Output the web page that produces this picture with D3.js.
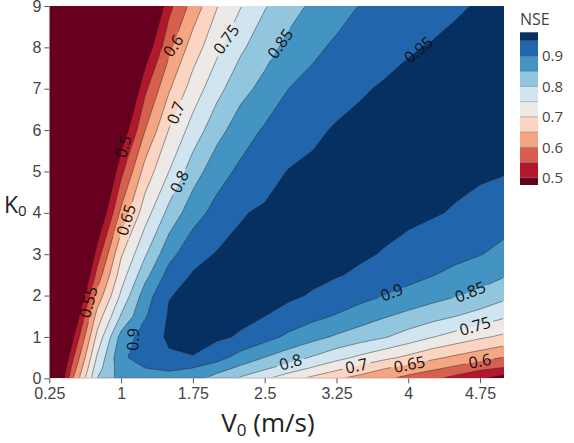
<!DOCTYPE html>
<html>
<head>
<meta charset="utf-8">
<script src="https://cdn.jsdelivr.net/npm/d3@7"></script>
<style>
  body { margin: 0; background: #fff; }
  svg { display: block; font-family: 'Open Sans', sans-serif; }
</style>
</head>
<body>
<div id="chart"></div>
<script>
// grid of the NSE surface: columns = V0 (m/s), rows = K0 (bottom to top)
var v0 = [0.25, 0.5, 0.75, 1, 1.25, 1.5, 1.75, 2, 2.25, 2.5, 2.75, 3, 3.25, 3.5, 3.75, 4, 4.25, 4.5, 4.75, 5]
var k0 = [0, 0.25, 0.5, 1, 1.5, 2, 2.5, 3, 4, 5, 6, 7, 8, 9]

var nseK00 = [0.33, 0.60, 0.80, 0.87, 0.88, 0.885, 0.87, 0.83, 0.793, 0.757, 0.721, 0.688, 0.656, 0.632, 0.609, 0.585, 0.56, 0.533, 0.506, 0.478]
var nseK025 = [0.32, 0.573, 0.778, 0.877, 0.90, 0.907, 0.90, 0.872, 0.84, 0.809, 0.778, 0.746, 0.715, 0.684, 0.654, 0.632, 0.612, 0.589, 0.563, 0.547]
var nseK05 = [0.30, 0.546, 0.757, 0.89, 0.925, 0.945, 0.948, 0.92, 0.879, 0.849, 0.822, 0.795, 0.766, 0.739, 0.713, 0.688, 0.661, 0.639, 0.619, 0.598]
var nseK1 = [0.27, 0.495, 0.714, 0.868, 0.928, 0.956, 0.964, 0.958, 0.945, 0.918, 0.89, 0.866, 0.843, 0.823, 0.804, 0.779, 0.752, 0.73, 0.708, 0.69]
var nseK15 = [0.25, 0.44, 0.67, 0.805, 0.895, 0.955, 0.965, 0.966, 0.96, 0.95, 0.932, 0.913, 0.896, 0.875, 0.854, 0.836, 0.818, 0.80, 0.78, 0.757]
var nseK2 = [0.25, 0.39, 0.616, 0.759, 0.875, 0.948, 0.96, 0.968, 0.97, 0.966, 0.958, 0.946, 0.931, 0.916, 0.90, 0.885, 0.869, 0.853, 0.838, 0.814]
var nseK25 = [0.25, 0.34, 0.568, 0.725, 0.833, 0.918, 0.954, 0.962, 0.968, 0.97, 0.966, 0.96, 0.953, 0.943, 0.929, 0.916, 0.902, 0.887, 0.871, 0.855]
var nseK3 = [0.25, 0.29, 0.523, 0.694, 0.794, 0.884, 0.933, 0.953, 0.96, 0.965, 0.968, 0.967, 0.963, 0.956, 0.947, 0.936, 0.925, 0.913, 0.902, 0.886]
var nseK4 = [0.25, 0.25, 0.43, 0.611, 0.727, 0.815, 0.879, 0.917, 0.947, 0.956, 0.962, 0.966, 0.968, 0.967, 0.965, 0.96, 0.954, 0.946, 0.935, 0.924]
var nseK5 = [0.25, 0.25, 0.36, 0.536, 0.67, 0.75, 0.827, 0.879, 0.911, 0.932, 0.952, 0.96, 0.965, 0.967, 0.967, 0.966, 0.964, 0.961, 0.957, 0.953]
var nseK6 = [0.25, 0.25, 0.28, 0.455, 0.599, 0.702, 0.77, 0.833, 0.875, 0.906, 0.923, 0.94, 0.955, 0.962, 0.966, 0.968, 0.97, 0.97, 0.97, 0.968]
var nseK7 = [0.25, 0.25, 0.25, 0.37, 0.539, 0.644, 0.722, 0.783, 0.835, 0.864, 0.90, 0.915, 0.93, 0.945, 0.955, 0.962, 0.966, 0.968, 0.97, 0.97]
var nseK8 = [0.25, 0.25, 0.25, 0.28, 0.46, 0.586, 0.674, 0.737, 0.791, 0.832, 0.864, 0.89, 0.908, 0.92, 0.933, 0.946, 0.953, 0.958, 0.962, 0.964]
var nseK9 = [0.25, 0.25, 0.25, 0.25, 0.37, 0.535, 0.619, 0.697, 0.748, 0.796, 0.83, 0.859, 0.882, 0.902, 0.913, 0.924, 0.935, 0.946, 0.953, 0.957]
var nseRows = [nseK00, nseK025, nseK05, nseK1, nseK15, nseK2, nseK25, nseK3, nseK4, nseK5, nseK6, nseK7, nseK8, nseK9]

// contour levels and the colour of each band (below first level ... above last)
var levels = [0.5, 0.55, 0.6, 0.65, 0.7, 0.75, 0.8, 0.85, 0.9, 0.95]
var bandColors = ['#67001f', '#b2182b', '#d6604d', '#f4a582', '#fbd5c2', '#ece9e6',
  '#d1e5f0', '#92c5de', '#4393c3', '#2166ac', '#053061']

// in-line contour labels (level, approximate V0, K0 where it sits)
var labelLevel = [0.5, 0.55, 0.6, 0.65, 0.7, 0.75, 0.8, 0.85, 0.95, 0.9, 0.9, 0.85, 0.8, 0.75, 0.7, 0.65, 0.6]
var labelV0 = [1.04, 0.66, 1.59, 1.06, 1.59, 2.12, 1.62, 2.69, 4.11, 1.08, 3.83, 4.65, 2.77, 4.70, 3.46, 4.01, 4.75]
var labelK0 = [5.59, 1.84, 8.0, 3.82, 6.4, 8.17, 4.74, 8.05, 7.93, 0.97, 2.06, 2.08, 0.39, 1.24, 0.30, 0.37, 0.39]

var xTicks = [0.25, 1, 1.75, 2.5, 3.25, 4, 4.75]
var yTicks = [0, 1, 2, 3, 4, 5, 6, 7, 8, 9]
var cbTicks = [0.5, 0.6, 0.7, 0.8, 0.9]
var cbRange = [0.476, 0.978]

var W = 574
var H = 443

var svg = d3.select('#chart').append('svg')
  .attr('width', W)
  .attr('height', H)

var x = d3.scaleLinear().domain([0.25, 5]).range([49.3, 504])
var y = d3.scaleLinear().domain([0, 9]).range([378.3, 6])

var nx = v0.length
var ny = k0.length
var values = []
nseRows.forEach(function (row) {
  row.forEach(function (v) { values.push(v) })
})

var contours = d3.contours().size([nx, ny]).thresholds(levels)(values)

// grid index -> data value (grid is not evenly spaced in K0)
var gridX = d3.scaleLinear().domain(d3.range(nx)).range(v0)
var gridY = d3.scaleLinear().domain(d3.range(ny)).range(k0)

function toPx (p) {
  var gi = Math.max(0, Math.min(nx - 1, p[0] - 0.5))
  var gj = Math.max(0, Math.min(ny - 1, p[1] - 0.5))
  return [x(gridX(gi)), y(gridY(gj))]
}

function multiPath (coords) {
  var s = ''
  coords.forEach(function (poly) {
    poly.forEach(function (ring) {
      s += 'M' + ring.map(function (p) {
        var q = toPx(p)
        return q[0].toFixed(2) + ',' + q[1].toFixed(2)
      }).join('L') + 'Z'
    })
  })
  return s
}

var x0 = x.range()[0], x1 = x.range()[1]
var yTop = y.range()[1], yBot = y.range()[0]

var defs = svg.append('defs')
defs.append('clipPath').attr('id', 'plot-clip')
  .append('rect')
  .attr('x', x0).attr('y', yTop)
  .attr('width', x1 - x0).attr('height', yBot - yTop)
defs.append('clipPath').attr('id', 'line-clip')
  .append('rect')
  .attr('x', x0 + 1).attr('y', yTop + 1)
  .attr('width', x1 - x0 - 2).attr('height', yBot - yTop - 2)

// filled bands
var plot = svg.append('g').attr('clip-path', 'url(#plot-clip)')
plot.append('rect')
  .attr('x', x0).attr('y', yTop)
  .attr('width', x1 - x0).attr('height', yBot - yTop)
  .attr('fill', bandColors[0])

plot.selectAll('.band')
  .data(contours)
  .enter().append('path')
  .attr('class', 'band')
  .attr('d', function (d) { return multiPath(d.coordinates) })
  .attr('fill', function (d, i) { return bandColors[i + 1] })
  .attr('fill-rule', 'evenodd')

// label positions snapped to their contour line
function onEdge (q) {
  return Math.abs(q[0] - x0) < 0.01 || Math.abs(q[0] - x1) < 0.01 ||
    Math.abs(q[1] - yTop) < 0.01 || Math.abs(q[1] - yBot) < 0.01
}

function snapLabel (level, tx, ty) {
  var c = contours.filter(function (d) { return Math.abs(d.value - level) < 1e-9 })[0]
  var best = null
  c.coordinates.forEach(function (poly) {
    poly.forEach(function (ring) {
      var pts = ring.map(toPx)
      for (var i = 1; i < pts.length; i++) {
        var a = pts[i - 1], b = pts[i]
        if (onEdge(a) && onEdge(b)) continue
        var dx = b[0] - a[0], dy = b[1] - a[1]
        var L2 = dx * dx + dy * dy
        if (!L2) continue
        var t = Math.max(0, Math.min(1, ((tx - a[0]) * dx + (ty - a[1]) * dy) / L2))
        var qx = a[0] + t * dx, qy = a[1] + t * dy
        var dist = (qx - tx) * (qx - tx) + (qy - ty) * (qy - ty)
        if (!best || dist < best.dist) {
          var pa = pts[Math.max(0, i - 3)], pb = pts[Math.min(pts.length - 1, i + 2)]
          best = { x: qx, y: qy, dist: dist, ang: Math.atan2(pb[1] - pa[1], pb[0] - pa[0]) * 180 / Math.PI }
        }
      }
    })
  })
  var ang = best.ang
  while (ang >= 89.5) ang -= 180
  while (ang < -90) ang += 180
  return { x: best.x, y: best.y, ang: ang }
}

var labels = labelLevel.map(function (lv, i) {
  var s = snapLabel(lv, x(labelV0[i]), y(labelK0[i]))
  s.text = d3.format('~g')(lv)
  return s
})

var mask = defs.append('mask').attr('id', 'label-gaps')
  .attr('maskUnits', 'userSpaceOnUse')
  .attr('x', 0).attr('y', 0).attr('width', W).attr('height', H)
mask.append('rect').attr('width', W).attr('height', H).attr('fill', '#fff')

// contour lines
svg.append('g')
  .attr('clip-path', 'url(#line-clip)')
  .append('g')
  .attr('mask', 'url(#label-gaps)')
  .selectAll('.cline')
  .data(contours)
  .enter().append('path')
  .attr('class', 'cline')
  .attr('d', function (d) { return multiPath(d.coordinates) })
  .attr('fill', 'none')
  .attr('stroke', '#222')
  .attr('stroke-opacity', 0.75)
  .attr('stroke-width', 0.6)

var labelG = svg.append('g')
labels.forEach(function (d) {
  var t = labelG.append('text')
    .attr('transform', 'translate(' + d.x + ',' + d.y + ')rotate(' + d.ang + ')')
    .attr('text-anchor', 'middle')
    .attr('dy', '0.35em')
    .style('font-size', '16px')
    .style('fill', '#111')
    .text(d.text)
  var w = t.node().getComputedTextLength()
  mask.append('rect')
    .attr('transform', 'translate(' + d.x + ',' + d.y + ')rotate(' + d.ang + ')')
    .attr('x', -w / 2 - 3).attr('y', -8)
    .attr('width', w + 6).attr('height', 16)
    .attr('fill', '#000')
})

// axes
var xAxis = svg.append('g')
  .attr('transform', 'translate(0,' + yBot + ')')
  .call(d3.axisBottom(x).tickValues(xTicks).tickSize(5).tickPadding(4).tickFormat(d3.format('~g')))
var yAxis = svg.append('g')
  .attr('transform', 'translate(' + x0 + ',0)')
  .call(d3.axisLeft(y).tickValues(yTicks).tickSize(5).tickPadding(3).tickFormat(d3.format('~g')))

;[xAxis, yAxis].forEach(function (ax) {
  ax.select('.domain').remove()
  ax.selectAll('line').attr('stroke', '#555')
  ax.selectAll('text')
    .attr('font-family', null)
    .style('font-size', '16px')
    .style('fill', '#444')
})

// axis titles
var xt = svg.append('text')
  .attr('x', 268).attr('y', 432)
  .attr('text-anchor', 'middle')
  .style('font-size', '26px')
  .style('fill', '#222')
xt.append('tspan').text('V')
xt.append('tspan').attr('dy', 4).style('font-size', '17px').text('0')
xt.append('tspan').attr('dy', -4).text(' (m/s)')

var yt = svg.append('text')
  .attr('x', 4).attr('y', 213)
  .style('font-size', '23px')
  .style('fill', '#222')
yt.append('tspan').text('K')
yt.append('tspan').attr('dy', 3).style('font-size', '15px').text('0')

// colour bar
var cb = d3.scaleLinear().domain(cbRange).range([185, 32.3])
var cbX = 520, cbW = 18
var edges = [cbRange[0]].concat(levels).concat([cbRange[1]])
var cbG = svg.append('g')
cbG.selectAll('rect')
  .data(bandColors)
  .enter().append('rect')
  .attr('x', cbX)
  .attr('y', function (d, i) { return cb(edges[i + 1]) })
  .attr('width', cbW)
  .attr('height', function (d, i) { return cb(edges[i]) - cb(edges[i + 1]) })
  .attr('fill', function (d) { return d })
cbG.selectAll('line')
  .data(levels)
  .enter().append('line')
  .attr('x1', cbX).attr('x2', cbX + cbW)
  .attr('y1', function (d) { return cb(d) })
  .attr('y2', function (d) { return cb(d) })
  .attr('stroke', '#555')
  .attr('stroke-opacity', 0.6)
  .attr('stroke-width', 0.6)
cbG.selectAll('text')
  .data(cbTicks)
  .enter().append('text')
  .attr('x', cbX + cbW + 4)
  .attr('y', function (d) { return cb(d) })
  .attr('dy', '0.35em')
  .style('font-size', '15px')
  .style('fill', '#444')
  .text(d3.format('~g'))
svg.append('text')
  .attr('x', cbX).attr('y', 25)
  .style('font-size', '16px')
  .style('fill', '#444')
  .text('NSE')
</script>
</body>
</html>
